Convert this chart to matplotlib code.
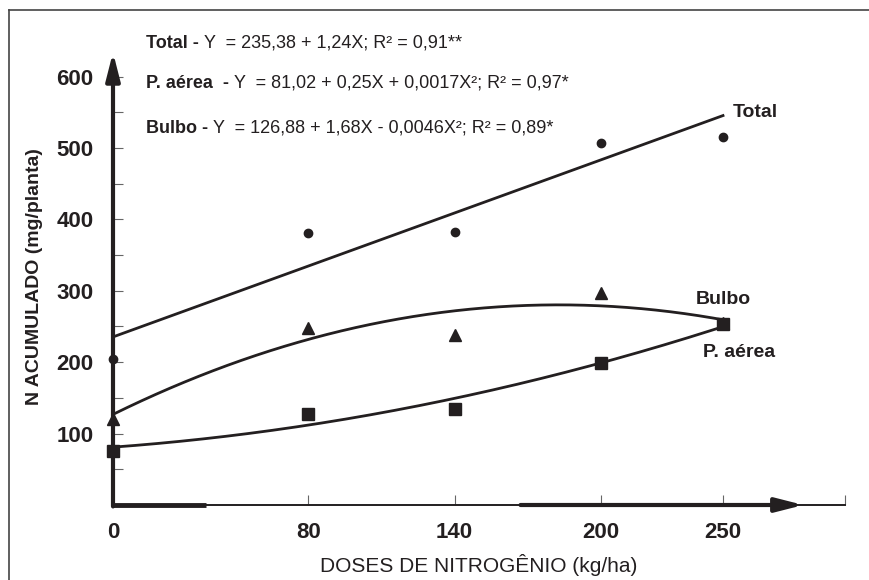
import matplotlib
matplotlib.use("Agg")
import matplotlib.pyplot as plt
import matplotlib.transforms as mtransforms
from matplotlib.lines import Line2D
import numpy as np

plt.rcParams['font.family'] = ['Liberation Sans', 'DejaVu Sans']

# values (N accumulated, mg/plant)
doses = [0, 80, 140, 200, 250]
total = [205, 381, 383, 507, 516]
bulbo = [121, 248, 238, 297, 255]
parte_aerea = [75, 127, 135, 199, 253]

# fitted equations printed on the chart: a + bX + cX^2
coef_total = [235.38, 1.24, 0.0]
coef_aerea = [81.02, 0.25, 0.0017]
coef_bulbo = [126.88, 1.68, -0.0046]

eq_labels = ["Total - ", "P. aérea  - ", "Bulbo - "]
eq_texts = ["Y  = 235,38 + 1,24X; R² = 0,91**",
            "Y  = 81,02 + 0,25X + 0,0017X²; R² = 0,97*",
            "Y  = 126,88 + 1,68X - 0,0046X²; R² = 0,89*"]

ink = "#231f20"
tickc = "#666666"
arrow = '-|>,head_length=1.1,head_width=0.28'

fig = plt.figure(figsize=(8.69, 5.80), dpi=100)
ax = fig.add_axes([113/869, 1 - 505/580, 732/869, 457/580])
ax.set_xlim(0, 300)
ax.set_ylim(0, 640)
for s in ax.spines.values():
    s.set_visible(False)

# fitted curves
xs = np.linspace(0, 250, 300)
for c in (coef_total, coef_bulbo, coef_aerea):
    ax.plot(xs, c[0] + c[1]*xs + c[2]*xs**2, color=ink, lw=2.0, zorder=3)

# observed points
ax.plot(doses, total, 'o', ms=6, color=ink, zorder=5, clip_on=False)
ax.plot(doses, bulbo, '^', ms=8, color=ink, zorder=5, clip_on=False)
ax.plot(doses, parte_aerea, 's', ms=8, color=ink, zorder=6, clip_on=False)

# axes with arrows
ax.annotate('', xy=(0, 634), xytext=(0, -2), annotation_clip=False,
            arrowprops=dict(arrowstyle=arrow, lw=3, color=ink, shrinkA=0,
                            shrinkB=0, mutation_scale=15), zorder=4)
ax.plot([0, 300], [0, 0], color=ink, lw=1.4, clip_on=False, zorder=4)
ax.plot([0, 38], [0, 0], color=ink, lw=3.5, clip_on=False, zorder=4,
        solid_capstyle='butt')
ax.annotate('', xy=(283, 0), xytext=(167, 0), annotation_clip=False,
            arrowprops=dict(arrowstyle=arrow, lw=3, color=ink, shrinkA=0,
                            shrinkB=0, mutation_scale=15), zorder=4)

# ticks
ax.set_xticks(doses)
ax.set_xticklabels([str(d) for d in doses], fontsize=16, fontweight='bold',
                   color=ink)
ax.set_xticks([300], minor=True)
ax.set_yticks([100, 200, 300, 400, 500, 600])
ax.set_yticklabels(['100', '200', '300', '400', '500', '600'], fontsize=16,
                   fontweight='bold', color=ink)
ax.set_yticks([50, 150, 250, 350, 450, 550], minor=True)
ax.tick_params(axis='x', which='both', direction='in', length=7, width=0.8,
               color=tickc, pad=12)
ax.tick_params(axis='y', which='both', direction='in', length=7, width=0.8,
               color=tickc, pad=14)

ax.set_xlabel("DOSES DE NITROGÊNIO (kg/ha)", fontsize=15, color=ink,
              labelpad=8)
ax.set_ylabel("N ACUMULADO (mg/planta)", fontsize=14, fontweight='bold',
              color=ink, labelpad=10)

# curve names
ax.text(254, 549, "Total", fontsize=14, fontweight='bold', color=ink,
        va='center', ha='left')
ax.text(239, 288, "Bulbo", fontsize=14, fontweight='bold', color=ink,
        va='center', ha='left')
ax.text(242, 214, "P. aérea", fontsize=14, fontweight='bold', color=ink,
        va='center', ha='left')

# equations: bold name followed by regular equation
eq_y = [640, 584, 521]
heads = []
for lab, y in zip(eq_labels, eq_y):
    heads.append(ax.text(13.5, y, lab, fontsize=13, fontweight='bold',
                         color=ink, va='baseline', ha='left'))
fig.canvas.draw()
r = fig.canvas.get_renderer()
for h, txt, y in zip(heads, eq_texts, eq_y):
    w = h.get_window_extent(r).width / fig.dpi
    tr = ax.transData + mtransforms.ScaledTranslation(w, 0, fig.dpi_scale_trans)
    ax.text(13.5, y, txt, fontsize=13, color=ink, va='baseline', ha='left',
            transform=tr)

# frame lines of the original figure box
fig.add_artist(Line2D([9/869, 9/869], [0, 1 - 10/580], transform=fig.transFigure,
                      color='#444444', lw=1.2))
fig.add_artist(Line2D([9/869, 1], [1 - 10/580, 1 - 10/580],
                      transform=fig.transFigure, color='#444444', lw=1.2))

fig.savefig("out.png", dpi=100)
